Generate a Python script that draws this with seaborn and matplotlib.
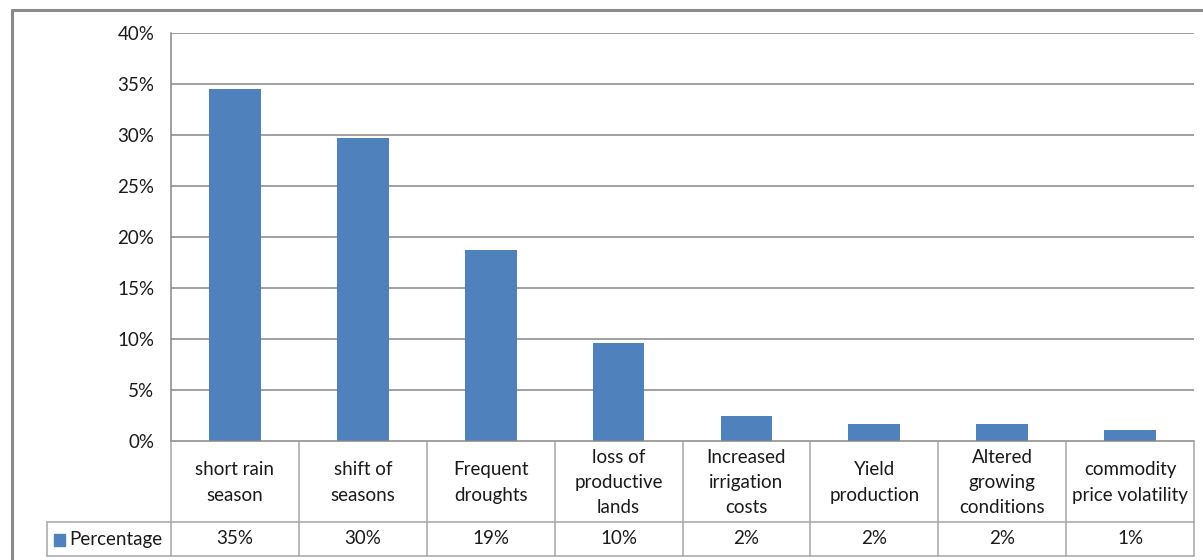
import matplotlib
matplotlib.use("Agg")
import matplotlib.pyplot as plt
from matplotlib.lines import Line2D
from matplotlib.patches import Rectangle
import seaborn as sns
import pandas as pd

categories = ["short rain\nseason", "shift of\nseasons", "Frequent\ndroughts",
              "loss of\nproductive\nlands", "Increased\nirrigation\ncosts",
              "Yield\nproduction", "Altered\ngrowing\nconditions",
              "commodity\nprice volatility"]
values = [34.5, 29.7, 18.7, 9.6, 2.45, 1.7, 1.7, 1.1]
table_labels = ["35%", "30%", "19%", "10%", "2%", "2%", "2%", "1%"]
series_name = "Percentage"
yticks = [0, 5, 10, 15, 20, 25, 30, 35, 40]

BAR = "#4F81BD"
GRID = "#868686"
FONT = "Lato"
FS = 13.5
TXT = "#1a1a1a"

sns.set_theme(style="white")
plt.rcParams["font.family"] = [FONT, "DejaVu Sans"]

W, H = 1203, 560
fig = plt.figure(figsize=(W / 100, H / 100), dpi=100)

def fx(px):
    return px / W

def fy(py):
    return 1 - py / H

x0, x1, ytop, ybot = 171, 1194, 33, 441
ax = fig.add_axes([fx(x0), fy(ybot), fx(x1) - fx(x0), fy(ytop) - fy(ybot)])

df = pd.DataFrame({"cat": range(len(categories)), "val": values})
sns.barplot(data=df, x="cat", y="val", color=BAR, saturation=1, width=0.405,
            ax=ax, edgecolor="none")
ax.set_xlim(-0.5, len(categories) - 0.5)
ax.set_ylim(0, 40)
ax.set_yticks(yticks)
ax.set_yticklabels([f"{t}%" for t in yticks], fontsize=FS, color=TXT)
ax.set_xticks([])
ax.set_xlabel("")
ax.set_ylabel("")
ax.tick_params(axis="y", length=0, pad=12)
for y in yticks[1:]:
    ax.axhline(y, color=GRID, lw=1.1, zorder=0)
for s in ["top", "right"]:
    ax.spines[s].set_visible(False)
for s in ["left", "bottom"]:
    ax.spines[s].set_color(GRID)
    ax.spines[s].set_linewidth(1.1)

# outer chart frame
frame_kw = dict(color="#8a8a8a", lw=2.2, transform=fig.transFigure)
fig.add_artist(Line2D([fx(12), fx(12)], [fy(10), 0], **frame_kw))
fig.add_artist(Line2D([fx(12), 1], [fy(10), fy(10)], **frame_kw))

# data table below the plot area
row_mid, row_bot, leg_left = 522, 556, 47
line_kw = dict(color="#a6a6a6", lw=1.1, transform=fig.transFigure)
n = len(categories)
cw = (x1 - x0) / n
for i in range(n + 1):
    xp = x0 + i * cw
    fig.add_artist(Line2D([fx(xp), fx(xp)], [fy(ybot), fy(row_bot)], **line_kw))
for yp in (row_mid, row_bot):
    fig.add_artist(Line2D([fx(leg_left), fx(x1)], [fy(yp), fy(yp)], **line_kw))
fig.add_artist(Line2D([fx(leg_left), fx(leg_left)], [fy(row_mid), fy(row_bot)], **line_kw))

for i, (c, lab) in enumerate(zip(categories, table_labels)):
    cx = x0 + (i + 0.5) * cw
    fig.text(fx(cx), fy((ybot + row_mid) / 2 + 1), c, ha="center", va="center",
             fontsize=FS, color=TXT, linespacing=1.6)
    fig.text(fx(cx), fy((row_mid + row_bot) / 2), lab, ha="center", va="center",
             fontsize=FS, color=TXT)

fig.add_artist(Rectangle((fx(54), fy(546)), fx(11), fy(534) - fy(546),
                         color=BAR, transform=fig.transFigure))
fig.text(fx(69), fy((row_mid + row_bot) / 2), series_name, ha="left", va="center",
         fontsize=FS, color=TXT)

fig.savefig("out.png", dpi=100)
